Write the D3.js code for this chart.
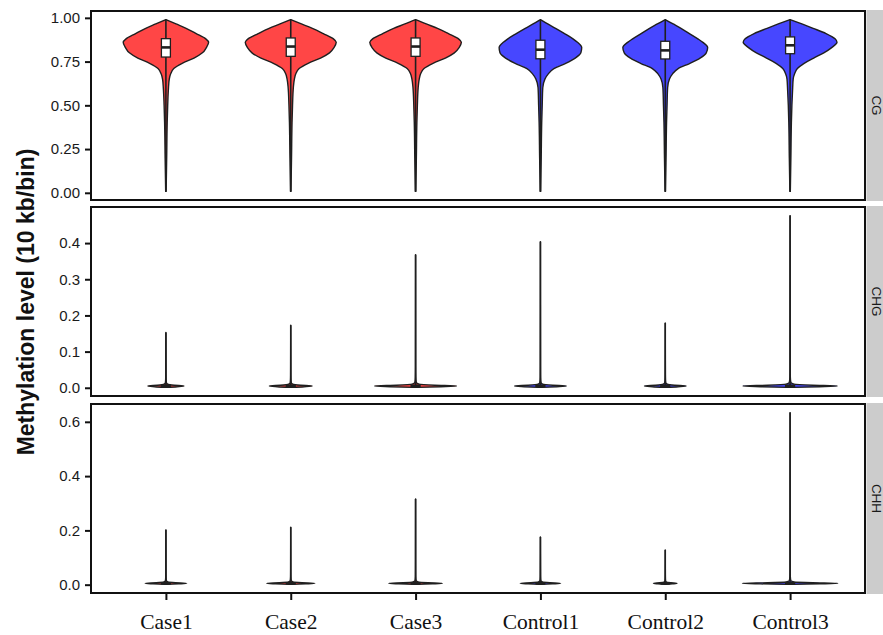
<!DOCTYPE html>
<html>
<head>
<meta charset="utf-8">
<script src="https://cdn.jsdelivr.net/npm/d3@7"></script>
<style>
  body { margin: 0; background: #fff; }
  svg { display: block; }
</style>
</head>
<body>
<svg id="chart" width="883" height="635"></svg>
<script>
// ---- Samples and groups ----
const samples = ["Case1", "Case2", "Case3", "Control1", "Control2", "Control3"];
const groups  = ["Case", "Case", "Case", "Control", "Control", "Control"];
const contexts = ["CG", "CHG", "CHH"];

// ---- CG: kernel density profiles (relative density) on a shared value grid ----
const cgGrid = [0.008, 0.2, 0.4, 0.5, 0.6, 0.65, 0.68, 0.71, 0.74, 0.77, 0.80, 0.83, 0.86, 0.88, 0.91, 0.94, 0.965, 0.99];
const cgCase1    = [0.004, 0.014, 0.023, 0.032, 0.046, 0.060, 0.085, 0.14, 0.29, 0.50, 0.65, 0.72, 0.76, 0.71, 0.54, 0.36, 0.18, 0];
const cgCase2    = [0.004, 0.014, 0.023, 0.032, 0.046, 0.065, 0.090, 0.15, 0.31, 0.53, 0.69, 0.77, 0.81, 0.76, 0.58, 0.385, 0.19, 0];
const cgCase3    = [0.004, 0.014, 0.023, 0.032, 0.046, 0.065, 0.090, 0.15, 0.31, 0.53, 0.69, 0.775, 0.815, 0.765, 0.585, 0.39, 0.19, 0];
const cgControl1 = [0.004, 0.014, 0.023, 0.032, 0.042, 0.080, 0.140, 0.24, 0.45, 0.62, 0.72, 0.735, 0.66, 0.58, 0.43, 0.27, 0.13, 0];
const cgControl2 = [0.004, 0.014, 0.023, 0.032, 0.042, 0.075, 0.130, 0.23, 0.44, 0.62, 0.73, 0.755, 0.67, 0.58, 0.43, 0.28, 0.14, 0];
const cgControl3 = [0.004, 0.014, 0.023, 0.032, 0.046, 0.055, 0.080, 0.13, 0.25, 0.42, 0.60, 0.74, 0.835, 0.80, 0.64, 0.41, 0.21, 0];
const cgQ1     = [0.776, 0.780, 0.780, 0.766, 0.765, 0.795];
const cgMedian = [0.831, 0.836, 0.836, 0.818, 0.814, 0.843];
const cgQ3     = [0.881, 0.885, 0.885, 0.872, 0.866, 0.891];
const cgMin    = [0.008, 0.008, 0.008, 0.008, 0.008, 0.008];
const cgMax    = [0.990, 0.990, 0.990, 0.988, 0.988, 0.990];

// ---- CHG / CHH: densities concentrated just above zero, long thin tails ----
const lowGrid = [0.001, 0.003, 0.005, 0.007, 0.010, 0.015, 0.03, 0.06];

const chgMax = [0.153, 0.173, 0.368, 0.404, 0.179, 0.476];
const chgCase1    = [0.02, 0.20, 0.32, 0.15, 0.030, 0.008, 0.003, 0.002, 0];
const chgCase2    = [0.02, 0.24, 0.38, 0.18, 0.035, 0.008, 0.003, 0.002, 0];
const chgCase3    = [0.04, 0.45, 0.73, 0.34, 0.060, 0.012, 0.004, 0.002, 0];
const chgControl1 = [0.03, 0.29, 0.46, 0.22, 0.040, 0.010, 0.003, 0.002, 0];
const chgControl2 = [0.02, 0.23, 0.37, 0.17, 0.035, 0.008, 0.003, 0.002, 0];
const chgControl3 = [0.05, 0.52, 0.84, 0.40, 0.070, 0.014, 0.004, 0.002, 0];

const chhMax = [0.202, 0.212, 0.316, 0.176, 0.128, 0.634];
const chhCase1    = [0.02, 0.23, 0.37, 0.17, 0.035, 0.008, 0.003, 0.002, 0];
const chhCase2    = [0.03, 0.27, 0.43, 0.20, 0.040, 0.009, 0.003, 0.002, 0];
const chhCase3    = [0.03, 0.30, 0.48, 0.22, 0.045, 0.010, 0.003, 0.002, 0];
const chhControl1 = [0.02, 0.22, 0.36, 0.17, 0.035, 0.008, 0.003, 0.002, 0];
const chhControl2 = [0.01, 0.13, 0.21, 0.10, 0.020, 0.005, 0.002, 0.001, 0];
const chhControl3 = [0.05, 0.53, 0.85, 0.40, 0.070, 0.014, 0.004, 0.002, 0];

const lowQ1     = [0.004, 0.004, 0.004, 0.004, 0.004, 0.004];
const lowMedian = [0.005, 0.005, 0.005, 0.005, 0.005, 0.005];
const lowQ3     = [0.007, 0.007, 0.007, 0.007, 0.007, 0.007];
const lowMin    = [0.001, 0.001, 0.001, 0.001, 0.001, 0.001];

// ---- Axis tick values ----
const cgTicks  = [0, 0.25, 0.5, 0.75, 1.0];
const chgTicks = [0, 0.1, 0.2, 0.3, 0.4];
const chhTicks = [0, 0.2, 0.4, 0.6];

// ---- Assemble panels ----
function build(grids, dens, q1, med, q3, lo, hi) {
  return samples.map((s, i) => ({
    sample: s, group: groups[i],
    pts: grids[i].map((v, j) => ({ v, d: dens[i][j] })),
    q1: q1[i], med: med[i], q3: q3[i], lo: lo[i], hi: hi[i]
  }));
}
const panels = [
  { name: "CG", ticks: cgTicks, fmt: d3.format(".2f"),
    data: build(samples.map(() => cgGrid),
                [cgCase1, cgCase2, cgCase3, cgControl1, cgControl2, cgControl3],
                cgQ1, cgMedian, cgQ3, cgMin, cgMax) },
  { name: "CHG", ticks: chgTicks, fmt: d3.format(".1f"),
    data: build(chgMax.map(m => lowGrid.concat([m])),
                [chgCase1, chgCase2, chgCase3, chgControl1, chgControl2, chgControl3],
                lowQ1, lowMedian, lowQ3, lowMin, chgMax) },
  { name: "CHH", ticks: chhTicks, fmt: d3.format(".1f"),
    data: build(chhMax.map(m => lowGrid.concat([m])),
                [chhCase1, chhCase2, chhCase3, chhControl1, chhControl2, chhControl3],
                lowQ1, lowMedian, lowQ3, lowMin, chhMax) }
];

// ---- Layout ----
const svg = d3.select("#chart");
const left = 91, right = 865;
const panelTops = [11, 207, 404];
const panelH = 189;
const stripW = 20;
const fillColor = { Case: "#ff4646", Control: "#4747ff" };
const sans = "'Liberation Sans', Arial, Helvetica, sans-serif";
const serif = "'Liberation Serif', 'Times New Roman', serif";

const x = d3.scalePoint().domain(samples).range([left, right]).padding(0.6);
const step = x.step();
const wScale = d3.scaleLinear().domain([0, 1]).range([0, step * 0.45]);
const boxHalf = step * 0.036;

panels.forEach((p, pi) => {
  const top = panelTops[pi], bottom = top + panelH;
  const lo = d3.min(p.data, d => d.lo), hi = d3.max(p.data, d => d.hi);
  const pad = (hi - lo) * 0.05;
  const y = d3.scaleLinear().domain([lo - pad, hi + pad]).range([bottom, top]);

  const g = svg.append("g").attr("class", "panel-" + p.name);

  // violins
  const area = d3.area()
    .curve(d3.curveMonotoneY)
    .y(d => y(d.v));
  p.data.forEach(s => {
    const cx = x(s.sample);
    g.append("path")
      .datum(s.pts)
      .attr("d", area.x0(d => cx - wScale(d.d)).x1(d => cx + wScale(d.d)))
      .attr("fill", fillColor[s.group])
      .attr("stroke", "#1f1f1f")
      .attr("stroke-width", 1.4)
      .attr("stroke-linejoin", "round");
  });

  // whiskers and boxes
  p.data.forEach(s => {
    const cx = x(s.sample);
    g.append("line")
      .attr("x1", cx).attr("x2", cx)
      .attr("y1", y(s.lo)).attr("y2", y(s.hi))
      .attr("stroke", "#1f1f1f").attr("stroke-width", 1.6);
    g.append("rect")
      .attr("x", cx - boxHalf).attr("width", boxHalf * 2)
      .attr("y", y(s.q3)).attr("height", Math.max(0.5, y(s.q1) - y(s.q3)))
      .attr("fill", "#fff").attr("stroke", "#1f1f1f").attr("stroke-width", 1.3);
    g.append("line")
      .attr("x1", cx - boxHalf).attr("x2", cx + boxHalf)
      .attr("y1", y(s.med)).attr("y2", y(s.med))
      .attr("stroke", "#1f1f1f").attr("stroke-width", 2.6);
  });

  // panel border
  g.append("rect")
    .attr("x", left).attr("y", top)
    .attr("width", right - left).attr("height", panelH)
    .attr("fill", "none").attr("stroke", "#111").attr("stroke-width", 2);

  // y axis
  const ax = g.append("g")
    .attr("transform", `translate(${left},0)`)
    .call(d3.axisLeft(y).tickValues(p.ticks).tickFormat(p.fmt).tickSize(6).tickPadding(5));
  ax.select(".domain").remove();
  ax.selectAll(".tick line").attr("stroke", "#111").attr("stroke-width", 2);
  ax.selectAll(".tick text")
    .attr("fill", "#1a1a1a")
    .style("font-family", sans)
    .style("font-size", "15px");

  // facet strip
  g.append("rect")
    .attr("x", right + 1.5).attr("y", top - 1)
    .attr("width", stripW).attr("height", panelH + 2)
    .attr("fill", "#cccccc");
  g.append("text")
    .attr("transform", `translate(${right + 6.5},${top + panelH / 2}) rotate(90)`)
    .attr("text-anchor", "middle")
    .attr("fill", "#1a1a1a")
    .style("font-family", sans)
    .style("font-size", "13.5px")
    .text(p.name);

  // x axis on the bottom panel only
  if (pi === panels.length - 1) {
    const xa = g.append("g")
      .attr("transform", `translate(0,${bottom})`)
      .call(d3.axisBottom(x).tickSize(7).tickPadding(14));
    xa.select(".domain").remove();
    xa.selectAll(".tick line").attr("stroke", "#111").attr("stroke-width", 2);
    xa.selectAll(".tick text")
      .attr("fill", "#111")
      .style("font-family", serif)
      .style("font-size", "21.5px");
  }
});

// y axis title
svg.append("text")
  .attr("transform", `translate(34,${(panelTops[0] + panelTops[2] + panelH) / 2}) rotate(-90)`)
  .attr("text-anchor", "middle")
  .attr("fill", "#111")
  .style("font-family", sans)
  .style("font-weight", "bold")
  .style("font-size", "23px")
  .text("Methylation level (10 kb/bin)");
</script>
</body>
</html>
